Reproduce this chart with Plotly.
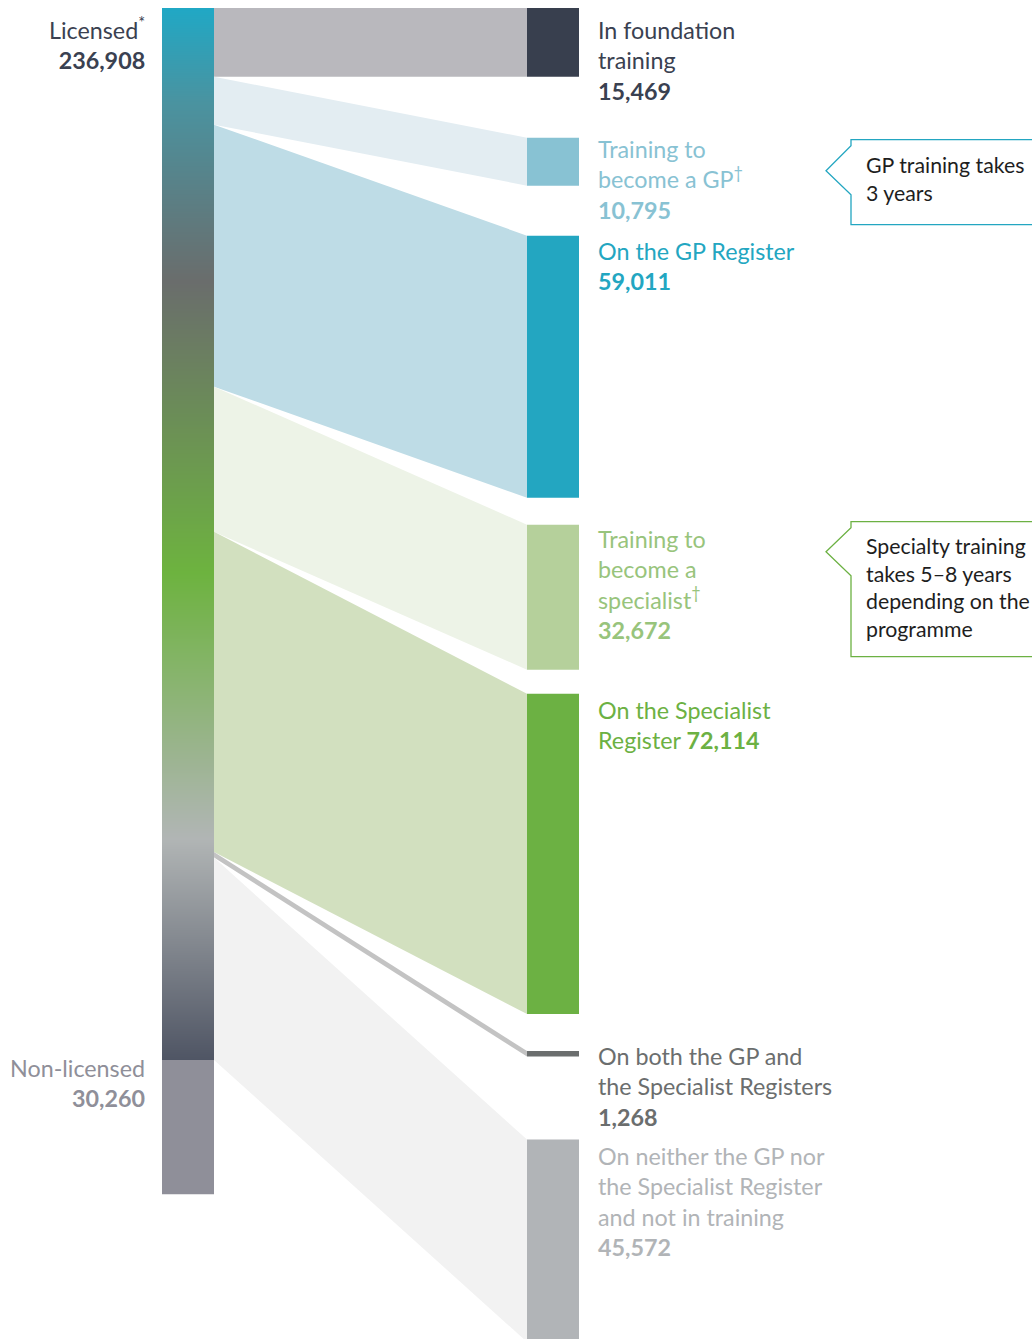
import numpy as np
import plotly.graph_objects as go

# ---------------- data ----------------
source_labels = ["Licensed", "Non-licensed"]
source_values = [236908, 30260]

target_labels = [
    "In foundation training",
    "Training to become a GP",
    "On the GP Register",
    "Training to become a specialist",
    "On the Specialist Register",
    "On both the GP and the Specialist Registers",
    "On neither the GP nor the Specialist Register and not in training",
]
target_values = [15469, 10795, 59011, 32672, 72114, 1268, 45572]

callout_texts = [
    "GP training takes<br>3 years",
    "Specialty training<br>takes 5–8 years<br>depending on the<br>programme",
]

# ---------------- layout / style ----------------
W, H = 1032, 1339
TOP_PX = 8
BAR_PX = 1052                      # pixel height of the licensed bar
K = BAR_PX / source_values[0]      # px per unit
X_LEFT0, X_LEFT1 = 162, 214
X_RIGHT0, X_RIGHT1 = 527, 579
X_LABEL = 596
GAP_PX = [61, 50, 27, 24, 37, 83]

FONT = "Lato"
FS = 23.3
FS_CALLOUT = 21.3

node_colors = ["#383f4e", "#88c2d3", "#23a6c1", "#b5d09b", "#6cb143", "#6b6e6e", "#b1b4b7"]
flow_colors = ["#b9b8bd", "#e3edf2", "#bedce6", "#edf3e7", "#d2e0bf", "#c3c3c3", "#f2f2f2"]
text_colors = ["#3a4151", "#88c2d3", "#23a6c1", "#98c47c", "#6cb143", "#6b6e6e", "#b1b4b7"]
label_shift_px = [6, -5, -1, -2, 0, -11, 0]
nonlic_color = "#8f8f99"
grad_scale = [
    [0.0, "#20a8c5"],
    [0.09, "#4a93a0"],
    [0.26, "#6a6d6c"],
    [0.537, "#6db33f"],
    [0.79, "#b1b5b5"],
    [1.0, "#4f5564"],
]

def u(px):
    return px / K

# ---------------- positions from values ----------------
left_tops = np.concatenate([[0], np.cumsum(target_values)[:-1]])
right_tops = []
pos = 0.0
for i, v in enumerate(target_values):
    right_tops.append(pos)
    pos += v
    if i < len(GAP_PX):
        pos += u(GAP_PX[i])
right_tops = np.array(right_tops)

fig = go.Figure()

# flows
for i, v in enumerate(target_values):
    lt, rt = left_tops[i], right_tops[i]
    fig.add_trace(go.Scatter(
        x=[X_LEFT1, X_RIGHT0, X_RIGHT0, X_LEFT1, X_LEFT1],
        y=[lt, rt, rt + v, lt + v, lt],
        mode="lines", fill="toself", fillcolor=flow_colors[i],
        line=dict(width=0, color=flow_colors[i]), hoverinfo="skip",
    ))

# right nodes
fig.add_trace(go.Bar(
    x=[(X_RIGHT0 + X_RIGHT1) / 2] * len(target_values),
    y=target_values, base=right_tops, width=X_RIGHT1 - X_RIGHT0,
    marker=dict(color=node_colors, line=dict(width=0)),
    hoverinfo="skip",
))

# non-licensed bar
fig.add_trace(go.Bar(
    x=[(X_LEFT0 + X_LEFT1) / 2], y=[source_values[1]], base=[source_values[0]],
    width=X_LEFT1 - X_LEFT0, marker=dict(color=nonlic_color, line=dict(width=0)),
    hoverinfo="skip",
))

# licensed gradient bar
n = 1052
edges = np.linspace(0, source_values[0], n + 1)
mids = (edges[:-1] + edges[1:]) / 2
fig.add_trace(go.Heatmap(
    x=[X_LEFT0, X_LEFT1], y=edges, z=(mids / source_values[0]).reshape(-1, 1),
    colorscale=grad_scale, zmin=0, zmax=1, showscale=False, zsmooth=False,
    hoverinfo="skip",
))

annotations = []
num_fmt = lambda v: f"{v:,}"
label_texts = [
    f"In foundation<br>training<br><b>{num_fmt(target_values[0])}</b>",
    f"Training to<br>become a GP<sup>†</sup><br><b>{num_fmt(target_values[1])}</b>",
    f"On the GP Register<br><b>{num_fmt(target_values[2])}</b>",
    f"Training to<br>become a<br>specialist<sup>†</sup><br><b>{num_fmt(target_values[3])}</b>",
    f"On the Specialist<br>Register <b>{num_fmt(target_values[4])}</b>",
    f"On both the GP and<br>the Specialist Registers<br><b>{num_fmt(target_values[5])}</b>",
    f"On neither the GP nor<br>the Specialist Register<br>and not in training<br><b>{num_fmt(target_values[6])}</b>",
]
for i in range(len(target_values)):
    annotations.append(dict(
        x=X_LABEL, y=right_tops[i], xref="x", yref="y", xanchor="left", yanchor="top",
        yshift=-label_shift_px[i], text=label_texts[i], showarrow=False, align="left",
        font=dict(family=FONT, size=FS, color=text_colors[i]),
    ))

# left labels
annotations.append(dict(
    x=147, y=0, xref="x", yref="y", xanchor="right", yanchor="top", yshift=-3,
    text=f"Licensed<sup>*</sup><br><b>{num_fmt(source_values[0])}</b>",
    showarrow=False, align="right", font=dict(family=FONT, size=FS, color="#3a4151"),
))
annotations.append(dict(
    x=147, y=source_values[0], xref="x", yref="y", xanchor="right", yanchor="top", yshift=8,
    text=f"Non-licensed<br><b>{num_fmt(source_values[1])}</b>",
    showarrow=False, align="right", font=dict(family=FONT, size=FS, color=nonlic_color),
))

# callouts (anchored to training nodes)
shapes = []
callouts = [
    # node index, colour, top offset, notch1, tip, notch2, bottom, text offset
    (1, "#23a6c1", 2, 8, 33, 57, 87, 10),
    (3, "#6cb143", -3, 3, 27, 51, 132, 9),
]
for (idx, col, top, n1, tip, n2, bot, toff), txt in zip(callouts, callout_texts):
    y0 = right_tops[idx]
    pts = [(1045, top), (851, top), (851, n1), (826, tip), (851, n2), (851, bot), (1045, bot)]
    path = "M " + " L ".join(f"{x},{y0 + u(p)}" for x, p in pts)
    shapes.append(dict(type="path", xref="x", yref="y", path=path,
                       line=dict(color=col, width=1.3), fillcolor="rgba(0,0,0,0)"))
    annotations.append(dict(
        x=864, y=y0 + u(top), xref="x", yref="y", xanchor="left", yanchor="top",
        yshift=-toff, text=txt, showarrow=False, align="left",
        font=dict(family=FONT, size=FS_CALLOUT, color="#1e1e1e"),
    ))

fig.update_layout(
    width=W, height=H, margin=dict(l=0, r=0, t=0, b=0),
    paper_bgcolor="white", plot_bgcolor="white", showlegend=False,
    barmode="overlay", annotations=annotations, shapes=shapes,
    xaxis=dict(range=[0, W], visible=False, fixedrange=True),
    yaxis=dict(range=[u(H - TOP_PX), u(-TOP_PX)], visible=False, fixedrange=True),
)

fig.write_html(
    "out.html",
    config={"displayModeBar": False},
    post_script="document.body.style.margin='0';document.body.style.overflow='hidden';",
)
